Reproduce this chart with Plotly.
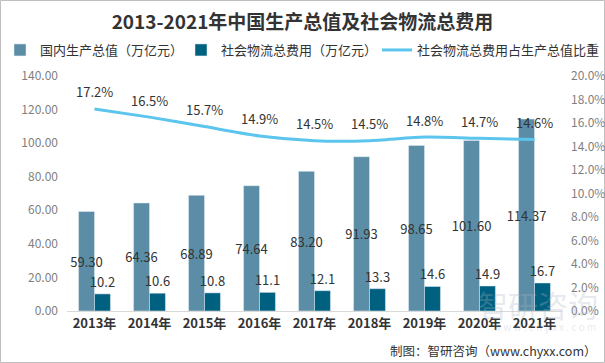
import plotly.graph_objects as go

years = ["2013年", "2014年", "2015年", "2016年", "2017年", "2018年", "2019年", "2020年", "2021年"]
gdp = [59.30, 64.36, 68.89, 74.64, 83.20, 91.93, 98.65, 101.60, 114.37]
logistics = [10.2, 10.6, 10.8, 11.1, 12.1, 13.3, 14.6, 14.9, 16.7]
ratio = [17.2, 16.5, 15.7, 14.9, 14.5, 14.5, 14.8, 14.7, 14.6]

W, H = 605, 363
ML, MR, MT, MB = 67, 43, 76, 52
PW = W - ML - MR
PH = H - MT - MB

FONT = "Noto Sans CJK SC"
DARK = "#333333"

fig = go.Figure()
fig.add_trace(go.Bar(
    x=years, y=gdp, name="国内生产总值（万亿元）",
    marker_color="#5B8EA6",
    text=[f"{v:.2f}" for v in gdp], textposition="inside",
    insidetextanchor="middle", textangle=0,
    insidetextfont=dict(color=DARK, size=13, family=FONT),
    yaxis="y", legend="legend", showlegend=True,
))
fig.add_trace(go.Bar(
    x=years, y=logistics, name="社会物流总费用（万亿元）",
    marker_color="#006080",
    text=[f"{v:.1f}" for v in logistics], textposition="outside",
    textangle=0,
    outsidetextfont=dict(color=DARK, size=13, family=FONT),
    cliponaxis=False,
    yaxis="y", legend="legend2", showlegend=True,
))
fig.add_trace(go.Scatter(
    x=years, y=[r / 100 for r in ratio], name="社会物流总费用占生产总值比重",
    mode="lines", line=dict(color="#5BC5EE", width=3, shape="spline", smoothing=0.6),
    yaxis="y2", legend="legend3", showlegend=True,
))

for yr, r in zip(years, ratio):
    fig.add_annotation(x=yr, y=r / 100, yref="y2", text=f"{r:.1f}%",
                       showarrow=False, yshift=17,
                       font=dict(color=DARK, size=13, family=FONT))


def leg(xpx):
    return dict(orientation="h", xref="container", yref="container",
                x=max(xpx, 0) / W, xanchor="left", y=1 - 50 / H, yanchor="middle",
                font=dict(size=13, color=DARK, family=FONT),
                itemwidth=30, bgcolor="rgba(0,0,0,0)", visible=True)


fig.update_layout(
    width=W, height=H,
    showlegend=True,
    margin=dict(l=ML, r=MR, t=MT, b=MB, autoexpand=False),
    paper_bgcolor="white", plot_bgcolor="white",
    font=dict(family=FONT, color=DARK),
    barmode="group", bargap=0.42, bargroupgap=0,
    uniformtext=dict(minsize=13, mode="show"),
    title=dict(text="<b>2013-2021年中国生产总值及社会物流总费用</b>",
               x=0.5, xref="container", xanchor="center",
               y=1 - 22 / H, yref="container", yanchor="middle",
               font=dict(size=19, color=DARK, family=FONT)),
    legend=leg(0),
    legend2=leg(181),
    legend3=leg(377),
    xaxis=dict(showgrid=False, showline=True, linecolor="#D9D9D9", linewidth=1,
               ticks="", tickfont=dict(size=13, color=DARK, family=FONT),
               tickprefix="<b>", ticksuffix="</b>"),
    yaxis=dict(range=[0, 140], dtick=20, tickformat=".2f", showgrid=False,
               zeroline=False, showline=False,
               tickfont=dict(size=12, color="#7F7F7F"), ticklabelstandoff=8),
    yaxis2=dict(range=[0, 0.2], dtick=0.02, tickformat=".1%", overlaying="y",
                side="right", showgrid=False, zeroline=False, showline=False,
                tickfont=dict(size=12, color="#7F7F7F"), ticklabelstandoff=8),
)

# watermark (faint, behind)
fig.add_annotation(xref="paper", yref="paper", x=(600 - ML) / PW, y=(H - MB - 304) / PH,
                   text="智研咨询", showarrow=False, xanchor="right", yanchor="middle",
                   font=dict(size=30, color="rgba(170,180,195,0.3)", family=FONT))
fig.add_annotation(xref="paper", yref="paper", x=(598 - ML) / PW, y=(H - MB - 326) / PH,
                   text="w w w . c h y x x . c o m", showarrow=False, xanchor="right", yanchor="middle",
                   font=dict(size=10, color="rgba(170,180,195,0.3)", family=FONT))
# source
fig.add_annotation(xref="paper", yref="paper", x=(599 - ML) / PW, y=(H - MB - 350) / PH,
                   text="制图：智研咨询（www.chyxx.com）", showarrow=False,
                   xanchor="right", yanchor="middle",
                   font=dict(size=12.5, color=DARK, family=FONT))
# frame
fig.add_shape(type="rect", xref="paper", yref="paper",
              x0=(0.5 - ML) / PW, x1=(W - 0.5 - ML) / PW,
              y0=(H - MB - (H - 0.5)) / PH, y1=(H - MB - 0.5) / PH,
              line=dict(color="#BFBFBF", width=1), fillcolor="rgba(0,0,0,0)", layer="below")

fig.write_html("out.html", config={"displayModeBar": False},
               post_script="document.body.style.margin='0';")
